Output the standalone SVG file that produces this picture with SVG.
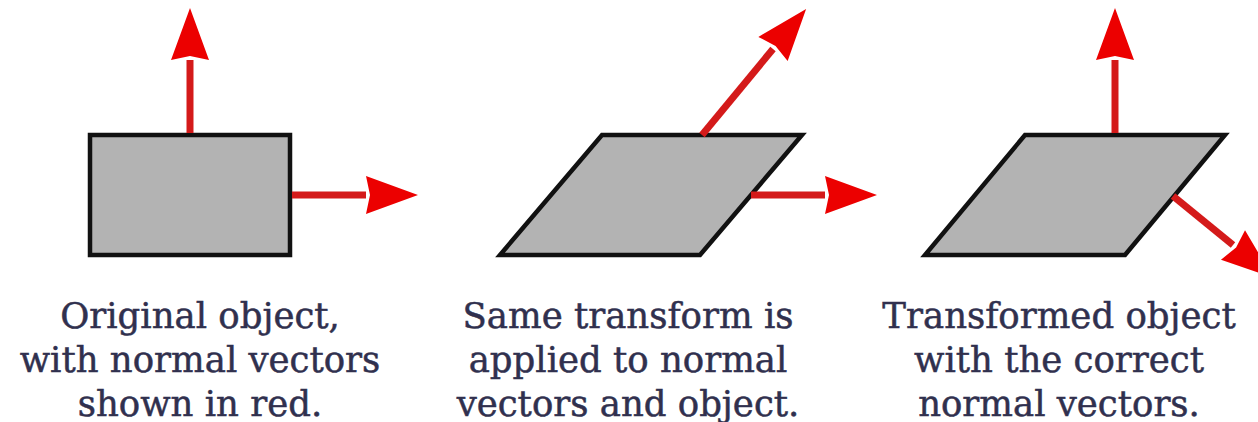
<svg xmlns="http://www.w3.org/2000/svg" width="1258" height="422" viewBox="0 0 1258 422">
  <style>
    .shape { fill: #b3b3b3; stroke: #111111; stroke-width: 4.5; stroke-linejoin: miter; }
    .vec { stroke: #d41a1a; stroke-width: 7; fill: none; marker-end: url(#head); }
    .label { font-family: "DejaVu Serif", "Liberation Serif", serif; font-size: 35.5px; fill: #30304e; stroke: #30304e; stroke-width: 0.5; text-anchor: middle; }
  </style>
  <defs>
    <marker id="head" markerUnits="userSpaceOnUse" markerWidth="54" markerHeight="40" refX="0" refY="19" orient="auto" overflow="visible">
      <path d="M0,0 L52,19 L0,38 L4,19 Z" fill="#ec0000"/>
    </marker>
  </defs>
  <rect width="1258" height="422" fill="#ffffff"/>

  <g id="node-original">
    <rect class="shape" x="90" y="135" width="200" height="120"/>
    <text class="label" x="200" y="328">Original object,</text>
    <text class="label" x="200" y="372">with normal vectors</text>
    <text class="label" x="200" y="416">shown in red.</text>
  </g>

  <g id="node-same-transform">
    <polygon class="shape" points="602,135 802,135 700,255 500,255"/>
    <text class="label" x="628" y="328">Same transform is</text>
    <text class="label" x="628" y="372">applied to normal</text>
    <text class="label" x="628" y="416">vectors and object.</text>
  </g>

  <g id="node-correct">
    <polygon class="shape" points="1025,135 1225,135 1125,255 925,255"/>
    <text class="label" x="1059" y="328">Transformed object</text>
    <text class="label" x="1059" y="372">with the correct</text>
    <text class="label" x="1059" y="416">normal vectors.</text>
  </g>

  <g id="connectors">
    <line class="vec" x1="190" y1="133" x2="190" y2="60"/>
    <line class="vec" x1="292" y1="195" x2="366" y2="195"/>
    <line class="vec" x1="702" y1="135" x2="773" y2="49"/>
    <line class="vec" x1="751" y1="195" x2="825" y2="195"/>
    <line class="vec" x1="1115" y1="133" x2="1115" y2="60"/>
    <line class="vec" x1="1173" y1="196" x2="1233" y2="245"/>
  </g>
</svg>
